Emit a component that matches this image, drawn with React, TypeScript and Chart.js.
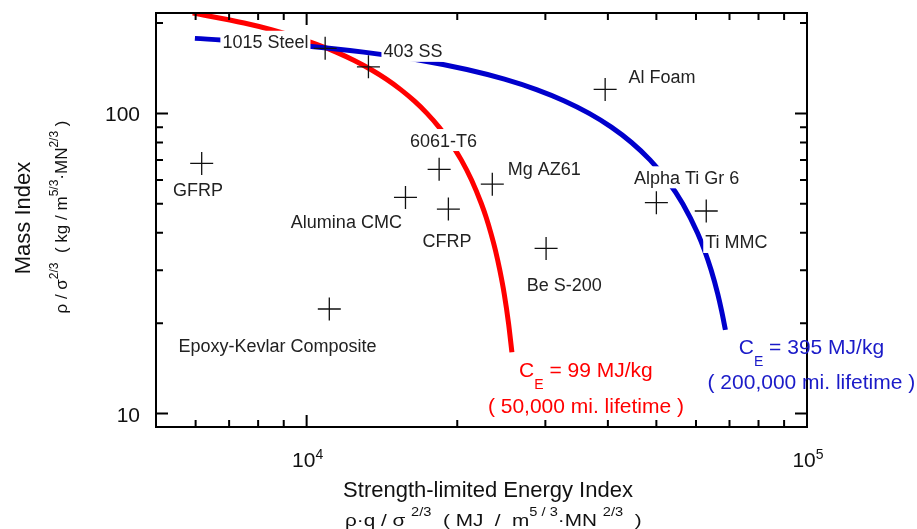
import React, { useEffect, useRef } from 'react';
import { Chart, registerables } from 'chart.js';

Chart.register(...registerables);

// ---- Data ----
const materials = [
  '1015 Steel', '403 SS', 'Al Foam', 'GFRP', '6061-T6', 'Mg AZ61',
  'Alumina CMC', 'CFRP', 'Be S-200', 'Alpha Ti Gr 6', 'Ti MMC', 'Epoxy-Kevlar Composite',
];
const energyIndex = [10890, 13290, 39500, 6170, 18400, 23500, 15760, 19200, 30100, 50000, 62900, 11100];
const massIndex = [164.7, 142.9, 120.2, 68.1, 65.1, 58.1, 52.5, 48.0, 35.5, 50.4, 47.3, 22.3];

// C_E = 99 MJ/kg curve (50,000 mi. lifetime)
const redCurveEnergy = [5920, 7500, 8500, 9480, 10470, 11460, 12450, 13440, 14430, 15420, 16410, 17400, 18390, 19380, 20370, 21360, 22350, 22850, 23340, 23840, 24330, 24830, 25320, 25720];
const redCurveMass = [216, 200, 190, 180, 170, 160, 150, 140, 130, 120, 110, 100, 90, 80, 70, 60, 50, 45, 40, 35, 30, 25, 20, 16];

// C_E = 395 MJ/kg curve (200,000 mi. lifetime)
const blueCurveEnergy = [5980, 9050, 13000, 16950, 20900, 24850, 28800, 32750, 36700, 40650, 44600, 48550, 52500, 56450, 60400, 62380, 64350, 66330, 67500, 68700];
const blueCurveMass = [177.8, 170, 160, 150, 140, 130, 120, 110, 100, 90, 80, 70, 60, 50, 40, 35, 30, 25, 22, 19];

const xMajorTicks = [10000, 100000];
const xMinorTicks = [6000, 7000, 8000, 9000, 20000, 30000, 40000, 50000, 60000, 70000, 80000, 90000];
const xTickExponents = ['4', '5'];
const yMajorTicks = [10, 100];
const yMinorTicks = [20, 30, 40, 50, 60, 70, 80, 90, 200];
const yTickLabels = ['10', '100'];

// label placement relative to each point (pixels)
const labelPlacement: { dx: number; dy: number; align: 'left' | 'center' | 'right' }[] = [
  { dx: -16.7, dy: -6.6, align: 'right' },
  { dx: 15, dy: -16, align: 'left' },
  { dx: 23.3, dy: -13.3, align: 'left' },
  { dx: -3.8, dy: 26, align: 'center' },
  { dx: 4.3, dy: -29.3, align: 'center' },
  { dx: 15.4, dy: -15.7, align: 'left' },
  { dx: -3.6, dy: 24.4, align: 'right' },
  { dx: -1.3, dy: 31, align: 'center' },
  { dx: 18.2, dy: 35.7, align: 'center' },
  { dx: 30.3, dy: -25.4, align: 'center' },
  { dx: -1, dy: 31, align: 'left' },
  { dx: -51.8, dy: 36, align: 'center' },
];

const FONT = '"Liberation Sans", Arial, sans-serif';
const RED = '#ff0000';
const BLUE = '#0000cc';
const BLUE_TEXT = '#1a1ac8';

type Seg = { t: string; size: number; dy?: number };

function segWidth(ctx: CanvasRenderingContext2D, segs: Seg[]) {
  let w = 0;
  for (const s of segs) {
    ctx.font = `${s.size}px ${FONT}`;
    w += ctx.measureText(s.t).width;
  }
  return w;
}

function drawRich(
  ctx: CanvasRenderingContext2D,
  segs: Seg[],
  x: number,
  y: number,
  align: 'left' | 'center' | 'right',
  color: string,
  sx: number = 1,
) {
  const w = segWidth(ctx, segs) * sx;
  const startX = align === 'left' ? x : align === 'center' ? x - w / 2 : x - w;
  ctx.save();
  ctx.translate(startX, y);
  ctx.scale(sx, 1);
  let cx = 0;
  ctx.fillStyle = color;
  ctx.textAlign = 'left';
  ctx.textBaseline = 'alphabetic';
  for (const s of segs) {
    ctx.font = `${s.size}px ${FONT}`;
    ctx.fillText(s.t, cx, s.dy || 0);
    cx += ctx.measureText(s.t).width;
  }
  ctx.restore();
}

const decorPlugin = {
  id: 'decor',
  afterDatasetsDraw(chart: any) {
    const ctx: CanvasRenderingContext2D = chart.ctx;
    const a = chart.chartArea;
    const xs = chart.scales.x;
    const ys = chart.scales.y;
    ctx.save();

    // point labels with white boxes
    materials.forEach((name, i) => {
      const px = xs.getPixelForValue(energyIndex[i]);
      const py = ys.getPixelForValue(massIndex[i]);
      const p = labelPlacement[i];
      ctx.font = `18px ${FONT}`;
      const w = ctx.measureText(name).width;
      const cy = py + p.dy;
      let left = px + p.dx;
      if (p.align === 'center') left -= w / 2;
      if (p.align === 'right') left -= w;
      ctx.fillStyle = '#ffffff';
      ctx.fillRect(left - 2, cy - 11, w + 4, 22);
      ctx.fillStyle = '#222222';
      ctx.textAlign = 'left';
      ctx.textBaseline = 'alphabetic';
      ctx.fillText(name, left, cy + 6.5);
    });

    // frame
    ctx.strokeStyle = '#000';
    ctx.lineWidth = 2;
    ctx.strokeRect(a.left, a.top, a.right - a.left, a.bottom - a.top);

    // ticks (inward, all four sides)
    ctx.beginPath();
    const xt = (v: number, len: number) => {
      const x = xs.getPixelForValue(v);
      ctx.moveTo(x, a.bottom);
      ctx.lineTo(x, a.bottom - len);
      ctx.moveTo(x, a.top);
      ctx.lineTo(x, a.top + len);
    };
    const yt = (v: number, len: number) => {
      const y = ys.getPixelForValue(v);
      ctx.moveTo(a.left, y);
      ctx.lineTo(a.left + len, y);
      ctx.moveTo(a.right, y);
      ctx.lineTo(a.right - len, y);
    };
    xMajorTicks.forEach((v) => xt(v, 12));
    xMinorTicks.forEach((v) => xt(v, 7));
    yMajorTicks.forEach((v) => yt(v, 12));
    yMinorTicks.forEach((v) => yt(v, 7));
    ctx.stroke();

    // x tick labels 10^n
    xMajorTicks.forEach((v, i) => {
      const x = xs.getPixelForValue(v);
      drawRich(ctx, [{ t: '10', size: 21 }, { t: xTickExponents[i], size: 14, dy: -8 }], x + 1, a.bottom + 40, 'center', '#111');
    });
    // y tick labels
    yMajorTicks.forEach((v, i) => {
      const y = ys.getPixelForValue(v);
      drawRich(ctx, [{ t: yTickLabels[i], size: 21 }], a.left - 16, y + 8, 'right', '#111');
    });

    // x title
    drawRich(ctx, [{ t: 'Strength-limited Energy Index', size: 22 }], 488, 497, 'center', '#111');
    drawRich(
      ctx,
      [
        { t: 'ρ·q / σ ', size: 17 },
        { t: '2/3', size: 12, dy: -10 },
        { t: '  ( MJ  /  m', size: 17 },
        { t: '5 / 3', size: 12, dy: -10 },
        { t: '·MN ', size: 17 },
        { t: '2/3', size: 12, dy: -10 },
        { t: '  )', size: 17 },
      ],
      345,
      526,
      'left',
      '#111',
      1.22,
    );

    // y title (rotated)
    ctx.save();
    ctx.translate(30, 218);
    ctx.rotate(-Math.PI / 2);
    drawRich(ctx, [{ t: 'Mass Index', size: 22 }], 0, 0, 'center', '#111');
    ctx.restore();
    ctx.save();
    ctx.translate(67, 217);
    ctx.rotate(-Math.PI / 2);
    drawRich(
      ctx,
      [
        { t: 'ρ / σ', size: 17 },
        { t: '2/3', size: 12, dy: -9 },
        { t: '  ( kg / m', size: 17 },
        { t: '5/3', size: 12, dy: -9 },
        { t: '·MN', size: 17 },
        { t: '2/3', size: 12, dy: -9 },
        { t: ' )', size: 17 },
      ],
      0,
      0,
      'center',
      '#111',
    );
    ctx.restore();

    // curve annotations
    const rx = xs.getPixelForValue(redCurveEnergy[redCurveEnergy.length - 1]);
    const ry = ys.getPixelForValue(redCurveMass[redCurveMass.length - 1]);
    drawRich(
      ctx,
      [{ t: 'C', size: 21 }, { t: 'E', size: 14, dy: 12 }, { t: ' = 99 MJ/kg', size: 21 }],
      rx + 74,
      ry + 24.5,
      'center',
      RED,
    );
    drawRich(ctx, [{ t: '( 50,000 mi. lifetime )', size: 21 }], rx + 74, ry + 61, 'center', RED);

    const bx = xs.getPixelForValue(blueCurveEnergy[blueCurveEnergy.length - 1]);
    const by = ys.getPixelForValue(blueCurveMass[blueCurveMass.length - 1]);
    drawRich(
      ctx,
      [{ t: 'C', size: 21 }, { t: 'E', size: 14, dy: 12 }, { t: ' = 395 MJ/kg', size: 21 }],
      bx + 86,
      by + 24,
      'center',
      BLUE_TEXT,
    );
    drawRich(ctx, [{ t: '( 200,000 mi. lifetime )', size: 21 }], bx + 86, by + 59, 'center', BLUE_TEXT);

    ctx.restore();
  },
};

export default function App() {
  const ref = useRef<HTMLCanvasElement>(null);
  useEffect(() => {
    document.body.style.margin = '0';
    const crossData = energyIndex.map((e, i) => ({ x: e, y: massIndex[i] }));
    const redData = redCurveEnergy.map((e, i) => ({ x: e, y: redCurveMass[i] }));
    const blueData = blueCurveEnergy.map((e, i) => ({ x: e, y: blueCurveMass[i] }));
    const chart = new Chart(ref.current as HTMLCanvasElement, {
      type: 'scatter',
      data: {
        datasets: [
          {
            label: 'Materials',
            data: crossData,
            pointStyle: 'cross',
            pointRadius: 11.5,
            pointBorderWidth: 1.3,
            borderColor: '#111',
            backgroundColor: '#111',
            showLine: false,
          } as any,
          {
            label: 'CE 395',
            data: blueData,
            showLine: true,
            pointRadius: 0,
            borderColor: BLUE,
            borderWidth: 5,
            cubicInterpolationMode: 'monotone',
            borderCapStyle: 'butt',
            clip: 0,
          } as any,
          {
            label: 'CE 99',
            data: redData,
            showLine: true,
            pointRadius: 0,
            borderColor: RED,
            borderWidth: 5,
            cubicInterpolationMode: 'monotone',
            borderCapStyle: 'butt',
            clip: 0,
          } as any,
        ],
      },
      options: {
        animation: false,
        responsive: false,
        devicePixelRatio: 1,
        layout: { padding: { left: 156, top: 13, right: 110, bottom: 102 } },
        plugins: { legend: { display: false }, tooltip: { enabled: false } },
        scales: {
          x: { type: 'logarithmic', min: 5000, max: 100000, display: false, bounds: 'data' } as any,
          y: { type: 'logarithmic', min: 9.02, max: 216, display: false, bounds: 'data' } as any,
        },
      },
      plugins: [decorPlugin],
    });
    return () => chart.destroy();
  }, []);
  return (
    <div style={{ width: 917, height: 529, background: '#fff' }}>
      <canvas ref={ref} width={917} height={529} style={{ display: 'block' }} />
    </div>
  );
}
